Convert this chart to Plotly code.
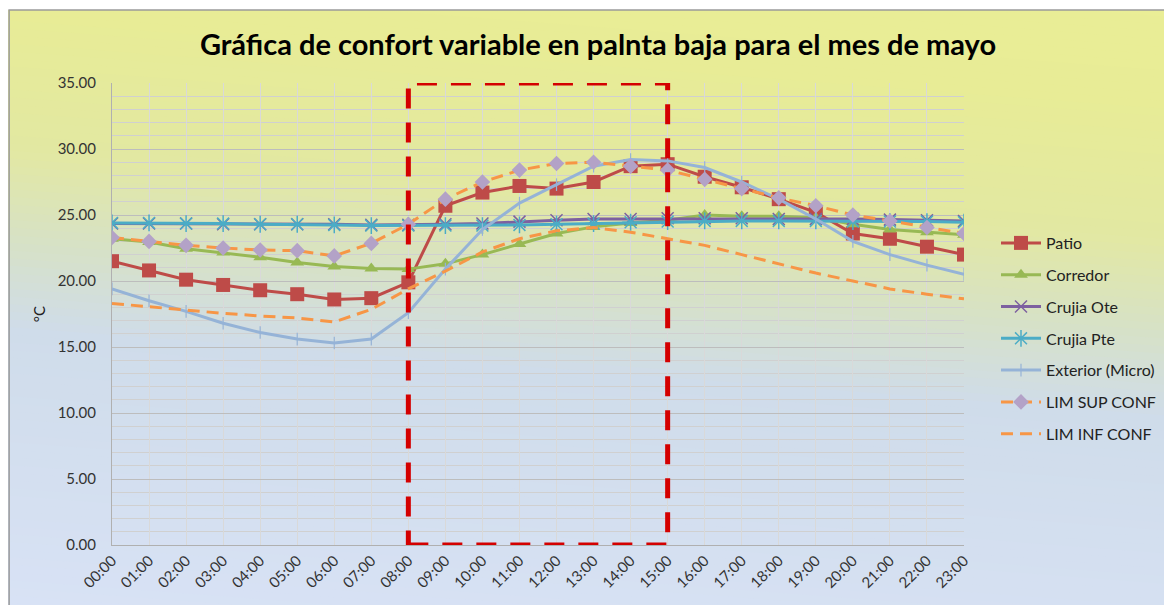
import plotly.graph_objects as go

hours = ["00:00", "01:00", "02:00", "03:00", "04:00", "05:00", "06:00", "07:00",
         "08:00", "09:00", "10:00", "11:00", "12:00", "13:00", "14:00", "15:00",
         "16:00", "17:00", "18:00", "19:00", "20:00", "21:00", "22:00", "23:00"]

patio = [21.5, 20.8, 20.1, 19.7, 19.3, 19.0, 18.6, 18.7, 19.9, 25.7, 26.7, 27.2,
         27.0, 27.5, 28.7, 28.85, 27.9, 27.1, 26.2, 25.2, 23.6, 23.2, 22.6, 22.0]
corredor = [23.2, 22.95, 22.45, 22.15, 21.8, 21.4, 21.1, 20.95, 20.9, 21.3, 22.0, 22.8,
            23.6, 24.1, 24.4, 24.6, 25.0, 24.9, 24.9, 24.8, 24.3, 23.9, 23.7, 23.5]
crujia_ote = [24.35, 24.35, 24.35, 24.3, 24.3, 24.3, 24.3, 24.25, 24.25, 24.3, 24.35, 24.5,
              24.6, 24.7, 24.7, 24.75, 24.75, 24.75, 24.7, 24.7, 24.7, 24.65, 24.6, 24.55]
crujia_pte = [24.4, 24.4, 24.35, 24.35, 24.3, 24.3, 24.25, 24.2, 24.2, 24.2, 24.2, 24.25,
              24.3, 24.35, 24.45, 24.5, 24.55, 24.55, 24.55, 24.55, 24.5, 24.5, 24.5, 24.45]
exterior = [19.4, 18.5, 17.7, 16.8, 16.1, 15.6, 15.3, 15.6, 17.6, 20.9, 23.9, 25.9,
            27.3, 28.7, 29.2, 29.1, 28.6, 27.5, 26.2, 24.7, 23.0, 22.0, 21.2, 20.5]
lim_sup = [23.3, 23.0, 22.7, 22.5, 22.35, 22.3, 21.9, 22.85, 24.3, 26.2, 27.5, 28.4,
           28.9, 29.0, 28.7, 28.4, 27.7, 27.0, 26.3, 25.7, 25.0, 24.55, 24.05, 23.6]
lim_inf = [18.3, 18.05, 17.75, 17.55, 17.35, 17.2, 16.9, 17.85, 19.4, 20.75, 22.2, 23.2,
           23.8, 24.05, 23.7, 23.2, 22.7, 22.0, 21.3, 20.6, 20.0, 19.4, 19.0, 18.65]

highlight = ["08:00", "15:00"]
y_ticks = [0, 5, 10, 15, 20, 25, 30, 35]

FONT = "Lato"
OFF = 8  # page body margin
W, H = 1172 - OFF, 605 - OFF
ML, MT = 112 - OFF, 83 - OFF
PW, PH = 853, 462
MR = W - ML - PW
MB = H - MT - PH


def px2paper(px, py):
    """page pixel -> paper coords"""
    fx, fy = px - OFF, py - OFF
    return (fx - ML) / PW, (MT + PH - fy) / PH


fig = go.Figure()

series = [
    ("Patio", patio, "#be4b48", dict(symbol="square", size=14, color="#be4b48"), None),
    ("Corredor", corredor, "#98b954", dict(symbol="triangle-up", size=12, color="#98b954"), None),
    ("Crujia Ote", crujia_ote, "#7d60a0",
     dict(symbol="x-thin-open", size=12, color="#7d60a0", line=dict(color="#7d60a0", width=1.5)), None),
    ("Crujia Pte", crujia_pte, "#4bacc6",
     dict(symbol="asterisk-open", size=14, color="#4bacc6", line=dict(color="#4bacc6", width=1.5)), None),
    ("Exterior (Micro)", exterior, "#95b3d7",
     dict(symbol="line-ns-open", size=9, color="#95b3d7", line=dict(color="#95b3d7", width=1.2)), None),
    ("LIM SUP CONF", lim_sup, "#f79646", dict(symbol="diamond", size=12, color="#b3a2c7"), "12px,7px"),
    ("LIM INF CONF", lim_inf, "#f79646", None, "12px,7px"),
]

for i, (name, vals, col, mk, dash) in enumerate(series):
    kw = dict(x=hours, y=vals, name=name, legendgroup=f"g{i}",
              line=dict(color=col, width=3, dash=dash if dash else "solid"))
    if mk is None:
        kw["mode"] = "lines"
    else:
        kw["mode"] = "lines+markers"
        kw["marker"] = mk
    fig.add_trace(go.Scatter(**kw))

shapes = []
# background gradient (slightly diagonal)
stops = [(-100, (234, 238, 150)), (10, (232, 236, 150)), (150, (226, 232, 162)),
         (250, (214, 225, 202)), (330, (207, 220, 234)), (605, (216, 226, 245)),
         (700, (216, 226, 245))]


def col_at(e):
    for (a, ca), (b, cb) in zip(stops[:-1], stops[1:]):
        if a <= e <= b:
            t = (e - a) / (b - a)
            c = [round(ca[k] + (cb[k] - ca[k]) * t) for k in range(3)]
            return f"rgb({c[0]},{c[1]},{c[2]})"
    return f"rgb{stops[-1][1]}"


tilt = 90
nb = 90
e_start, e_end = 10 - tilt, 610
step = (e_end - e_start) / nb
for i in range(nb):
    e0 = e_start + i * step
    e1 = e0 + step + 1
    pts = [px2paper(0, e0), px2paper(1180, e0 + tilt), px2paper(1180, e1 + tilt), px2paper(0, e1)]
    path = "M " + " L ".join(f"{x:.5f},{y:.5f}" for x, y in pts) + " Z"
    shapes.append(dict(type="path", path=path, xref="paper", yref="paper",
                       fillcolor=col_at(e0 + step / 2), line=dict(width=0), layer="below"))

# white outside of chart border (top strip)
x0p, y0p = px2paper(-20, -20)
x1p, y1p = px2paper(1200, 10)
shapes.append(dict(type="rect", xref="paper", yref="paper", x0=x0p, y0=y1p, x1=x1p, y1=y0p,
                   fillcolor="white", line=dict(width=0), layer="below"))
# chart border
bx0, by0 = px2paper(9, 10)
bx1, by1 = px2paper(1190, 620)
shapes.append(dict(type="rect", xref="paper", yref="paper", x0=bx0, y0=by1, x1=bx1, y1=by0,
                   fillcolor="rgba(0,0,0,0)", line=dict(color="#9a9a9a", width=1.5), layer="below"))

# highlighted period
shapes.append(dict(type="rect", xref="x", yref="y",
                   x0=hours.index(highlight[0]), x1=hours.index(highlight[1]),
                   y0=y_ticks[0], y1=y_ticks[-1],
                   line=dict(color="#d40000", width=5, dash="20px,14px"),
                   fillcolor="rgba(0,0,0,0)", layer="above"))

lx, ly = px2paper(996, 226)
fig.update_layout(
    width=W, height=H,
    margin=dict(l=ML, r=MR, t=MT, b=MB),
    paper_bgcolor="white",
    plot_bgcolor="white",
    shapes=shapes,
    title=dict(text="<b>Gráfica de confort variable en palnta baja para el mes de mayo</b>",
               x=(598 - OFF) / W, xanchor="center", y=1 - (45 - OFF) / H, yanchor="middle",
               font=dict(family=FONT, size=29, color="#000000")),
    font=dict(family=FONT, size=15, color="#333333"),
    legend=dict(x=lx, y=ly, xanchor="left", yanchor="top",
                bgcolor="rgba(0,0,0,0)", font=dict(family=FONT, size=16, color="#222222"),
                tracegroupgap=8, traceorder="grouped", itemwidth=40),
    showlegend=True,
)

fig.update_xaxes(type="category", range=[0, len(hours) - 1], tickangle=-45,
                 showgrid=True, gridcolor="#d9d9d9", gridwidth=1,
                 showline=True, linecolor="#b0b0b0", ticks="", zeroline=False,
                 tickfont=dict(family=FONT, size=15, color="#333333"))
fig.update_yaxes(range=[y_ticks[0], y_ticks[-1]], tickvals=y_ticks, tickformat=".2f",
                 showgrid=True, gridcolor="#bdbdbd", gridwidth=1,
                 minor=dict(dtick=1, showgrid=True, gridcolor="#d0d0d0", gridwidth=1),
                 showline=True, linecolor="#b0b0b0", ticks="", zeroline=False,
                 ticklabelstandoff=12,
                 tickfont=dict(family=FONT, size=15, color="#333333"),
                 title=dict(text="°C", standoff=8, font=dict(family=FONT, size=15, color="#222222")))

fig.write_html("out.html")
